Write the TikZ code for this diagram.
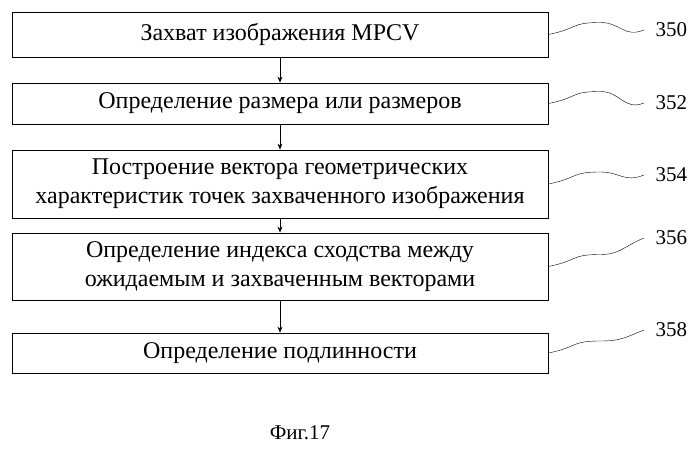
\documentclass[tikz,border=0pt]{standalone}
\usepackage{fontspec}
\setmainfont{Liberation Serif}
\usetikzlibrary{positioning,arrows.meta,calc}
\tikzset{
  stepbox/.style={draw,thick,minimum width=536pt,align=center,font=\fontsize{24}{29}\selectfont},
  flow/.style={-{Stealth[length=6pt,width=5pt]},thick},
  leader/.style={thin},
  reflabel/.style={font=\fontsize{21}{25}\selectfont,anchor=west}
}
\begin{document}
\begin{tikzpicture}[x=1pt,y=-1pt]
	\useasboundingbox (0,0) rectangle (699,449);
	% boxes
	\node[stepbox,minimum height=45pt] (capture) at (280,34.5) {Захват изображения MPCV};
	\node[stepbox,minimum height=41pt] (size) at (280,103.5) {Определение размера или размеров};
	\node[stepbox,minimum height=68pt] (vector) at (280,184) {Построение вектора геометрических\\характеристик точек захваченного изображения};
	\node[stepbox,minimum height=67pt] (index) at (280,266.5) {Определение индекса сходства между\\ожидаемым и захваченным векторами};
	\node[stepbox,minimum height=40pt] (auth) at (280,353) {Определение подлинности};

	\draw[flow] (capture) -- (size);
	\draw[flow] (size) -- (vector);
	\draw[flow] (vector) -- (index);
	\draw[flow] (index) -- (auth);

	% reference numbers
	\node[reflabel] (n350) at (652,30) {350};
	\node[reflabel] (n352) at (652,103) {352};
	\node[reflabel] (n354) at (652,175) {354};
	\node[reflabel] (n356) at (652,238) {356};
	\node[reflabel] (n358) at (652,330) {358};

	\foreach \b/\n in {capture/n350,size/n352,vector/n354,index/n356,auth/n358}{
		\draw[leader] (\b.east) .. controls ++(30,-6) and ++(-30,0) .. ++(52,-12)
			.. controls ++(20,0) and ++(-20,8) .. ($(\n.west)+(-8,0)$);
	}

	\node[font=\fontsize{21}{25}\selectfont] (caption) at (300,433) {Фиг.17};
\end{tikzpicture}
\end{document}
